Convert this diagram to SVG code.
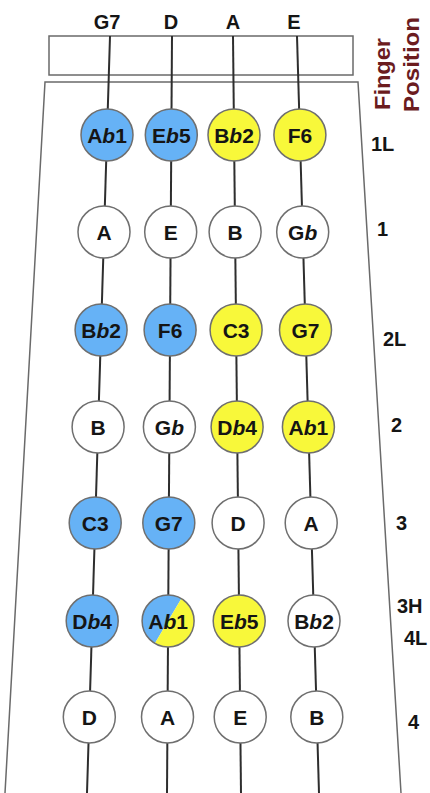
<svg xmlns="http://www.w3.org/2000/svg" width="430" height="793" viewBox="0 0 430 793">
  <style>
    .frame { fill: none; stroke: #6a6a6a; stroke-width: 1.5; }
    .string { stroke: #2e2e2e; stroke-width: 2; }
    .node { stroke: #6f6f6f; stroke-width: 1.5; }
    .blue { fill: #66b2f6; }
    .yellow { fill: #f8f83a; }
    .white { fill: #ffffff; }
    .note { font-family: "Liberation Sans", Arial, sans-serif; font-weight: bold; font-size: 21px; fill: #151515; text-anchor: middle; }
    .flat { font-style: italic; }
    .head { font-family: "Liberation Sans", Arial, sans-serif; font-weight: bold; font-size: 20px; fill: #151515; text-anchor: middle; }
    .pos { font-family: "Liberation Sans", Arial, sans-serif; font-weight: bold; font-size: 20px; fill: #151515; }
    .title { font-family: "Liberation Sans", Arial, sans-serif; font-weight: bold; font-size: 22px; fill: #6b1c1f; }
  </style>

  <rect width="430" height="793" fill="#ffffff"/>

  <!-- nut box and fingerboard outline -->
  <rect class="frame" x="49" y="36" width="304" height="39"/>
  <polyline class="frame" points="5,793 45,82 358,82 401,793"/>

  <!-- string names -->
  <text class="head" x="107" y="29">G7</text>
  <text class="head" x="171" y="29">D</text>
  <text class="head" x="233" y="29">A</text>
  <text class="head" x="294" y="29">E</text>

  <!-- column caption -->
  <text class="title" transform="translate(390,110) rotate(-90)" textLength="72" lengthAdjust="spacingAndGlyphs">Finger</text>
  <text class="title" transform="translate(419,112) rotate(-90)" textLength="95" lengthAdjust="spacingAndGlyphs">Position</text>

  <!-- strings -->
  <g id="connectors">
    <line class="string" x1="110" y1="36" x2="87" y2="793"/>
    <line class="string" x1="172" y1="36" x2="167" y2="793"/>
    <line class="string" x1="233" y1="36" x2="241" y2="793"/>
    <line class="string" x1="297" y1="36" x2="319" y2="793"/>
  </g>

  <!-- row 1 -->
  <g id="n1-g"><circle class="node blue" cx="107" cy="135" r="26"/><text class="note" x="107" y="142.5">A<tspan class="flat">b</tspan>1</text></g>
  <g id="n1-d"><circle class="node blue" cx="171.3" cy="135" r="26"/><text class="note" x="171.3" y="142.5">E<tspan class="flat">b</tspan>5</text></g>
  <g id="n1-a"><circle class="node yellow" cx="234" cy="135" r="26"/><text class="note" x="234" y="142.5">B<tspan class="flat">b</tspan>2</text></g>
  <g id="n1-e"><circle class="node yellow" cx="299.9" cy="135" r="26"/><text class="note" x="299.9" y="142.5">F6</text></g>

  <!-- row 2 -->
  <g id="n2-g"><circle class="node white" cx="104" cy="232" r="26"/><text class="note" x="104" y="239.5">A</text></g>
  <g id="n2-d"><circle class="node white" cx="170.7" cy="232" r="26"/><text class="note" x="170.7" y="239.5">E</text></g>
  <g id="n2-a"><circle class="node white" cx="235.1" cy="232" r="26"/><text class="note" x="235.1" y="239.5">B</text></g>
  <g id="n2-e"><circle class="node white" cx="302.7" cy="232" r="26"/><text class="note" x="302.7" y="239.5">G<tspan class="flat">b</tspan></text></g>

  <!-- row 3 -->
  <g id="n3-g"><circle class="node blue" cx="101.1" cy="330" r="26"/><text class="note" x="101.1" y="337.5">B<tspan class="flat">b</tspan>2</text></g>
  <g id="n3-d"><circle class="node blue" cx="170.1" cy="330" r="26"/><text class="note" x="170.1" y="337.5">F6</text></g>
  <g id="n3-a"><circle class="node yellow" cx="236.1" cy="330" r="26"/><text class="note" x="236.1" y="337.5">C3</text></g>
  <g id="n3-e"><circle class="node yellow" cx="305.5" cy="330" r="26"/><text class="note" x="305.5" y="337.5">G7</text></g>

  <!-- row 4 -->
  <g id="n4-g"><circle class="node white" cx="98.1" cy="427" r="26"/><text class="note" x="98.1" y="434.5">B</text></g>
  <g id="n4-d"><circle class="node white" cx="169.4" cy="427" r="26"/><text class="note" x="169.4" y="434.5">G<tspan class="flat">b</tspan></text></g>
  <g id="n4-a"><circle class="node yellow" cx="237.1" cy="427" r="26"/><text class="note" x="237.1" y="434.5">D<tspan class="flat">b</tspan>4</text></g>
  <g id="n4-e"><circle class="node yellow" cx="308.4" cy="427" r="26"/><text class="note" x="308.4" y="434.5">A<tspan class="flat">b</tspan>1</text></g>

  <!-- row 5 -->
  <g id="n5-g"><circle class="node blue" cx="95.2" cy="523" r="26"/><text class="note" x="95.2" y="530.5">C3</text></g>
  <g id="n5-d"><circle class="node blue" cx="168.8" cy="523" r="26"/><text class="note" x="168.8" y="530.5">G7</text></g>
  <g id="n5-a"><circle class="node white" cx="238.1" cy="523" r="26"/><text class="note" x="238.1" y="530.5">D</text></g>
  <g id="n5-e"><circle class="node white" cx="311.2" cy="523" r="26"/><text class="note" x="311.2" y="530.5">A</text></g>

  <!-- row 6 -->
  <g id="n6-g"><circle class="node blue" cx="92.2" cy="621" r="26"/><text class="note" x="92.2" y="628.5">D<tspan class="flat">b</tspan>4</text></g>
  <g id="n6-d">
    <path class="blue" d="M181.4,598.6 A26,26 0 0 0 154.8,643.4 Z"/>
    <path class="yellow" d="M181.4,598.6 A26,26 0 0 1 154.8,643.4 Z"/>
    <circle class="node" cx="168.1" cy="621" r="26" fill="none"/>
    <text class="note" x="168.1" y="628.5">A<tspan class="flat">b</tspan>1</text>
  </g>
  <g id="n6-a"><circle class="node yellow" cx="239.2" cy="621" r="26"/><text class="note" x="239.2" y="628.5">E<tspan class="flat">b</tspan>5</text></g>
  <g id="n6-e"><circle class="node white" cx="314" cy="621" r="26"/><text class="note" x="314" y="628.5">B<tspan class="flat">b</tspan>2</text></g>

  <!-- row 7 -->
  <g id="n7-g"><circle class="node white" cx="89.3" cy="717" r="26"/><text class="note" x="89.3" y="724.5">D</text></g>
  <g id="n7-d"><circle class="node white" cx="167.5" cy="717" r="26"/><text class="note" x="167.5" y="724.5">A</text></g>
  <g id="n7-a"><circle class="node white" cx="240.2" cy="717" r="26"/><text class="note" x="240.2" y="724.5">E</text></g>
  <g id="n7-e"><circle class="node white" cx="316.8" cy="717" r="26"/><text class="note" x="316.8" y="724.5">B</text></g>

  <!-- finger position labels -->
  <g id="positions">
    <text class="pos" x="371" y="151">1L</text>
    <text class="pos" x="377" y="236">1</text>
    <text class="pos" x="383" y="346">2L</text>
    <text class="pos" x="391" y="432">2</text>
    <text class="pos" x="396" y="530">3</text>
    <text class="pos" x="397" y="613">3H</text>
    <text class="pos" x="404" y="645">4L</text>
    <text class="pos" x="408" y="729">4</text>
  </g>
</svg>
